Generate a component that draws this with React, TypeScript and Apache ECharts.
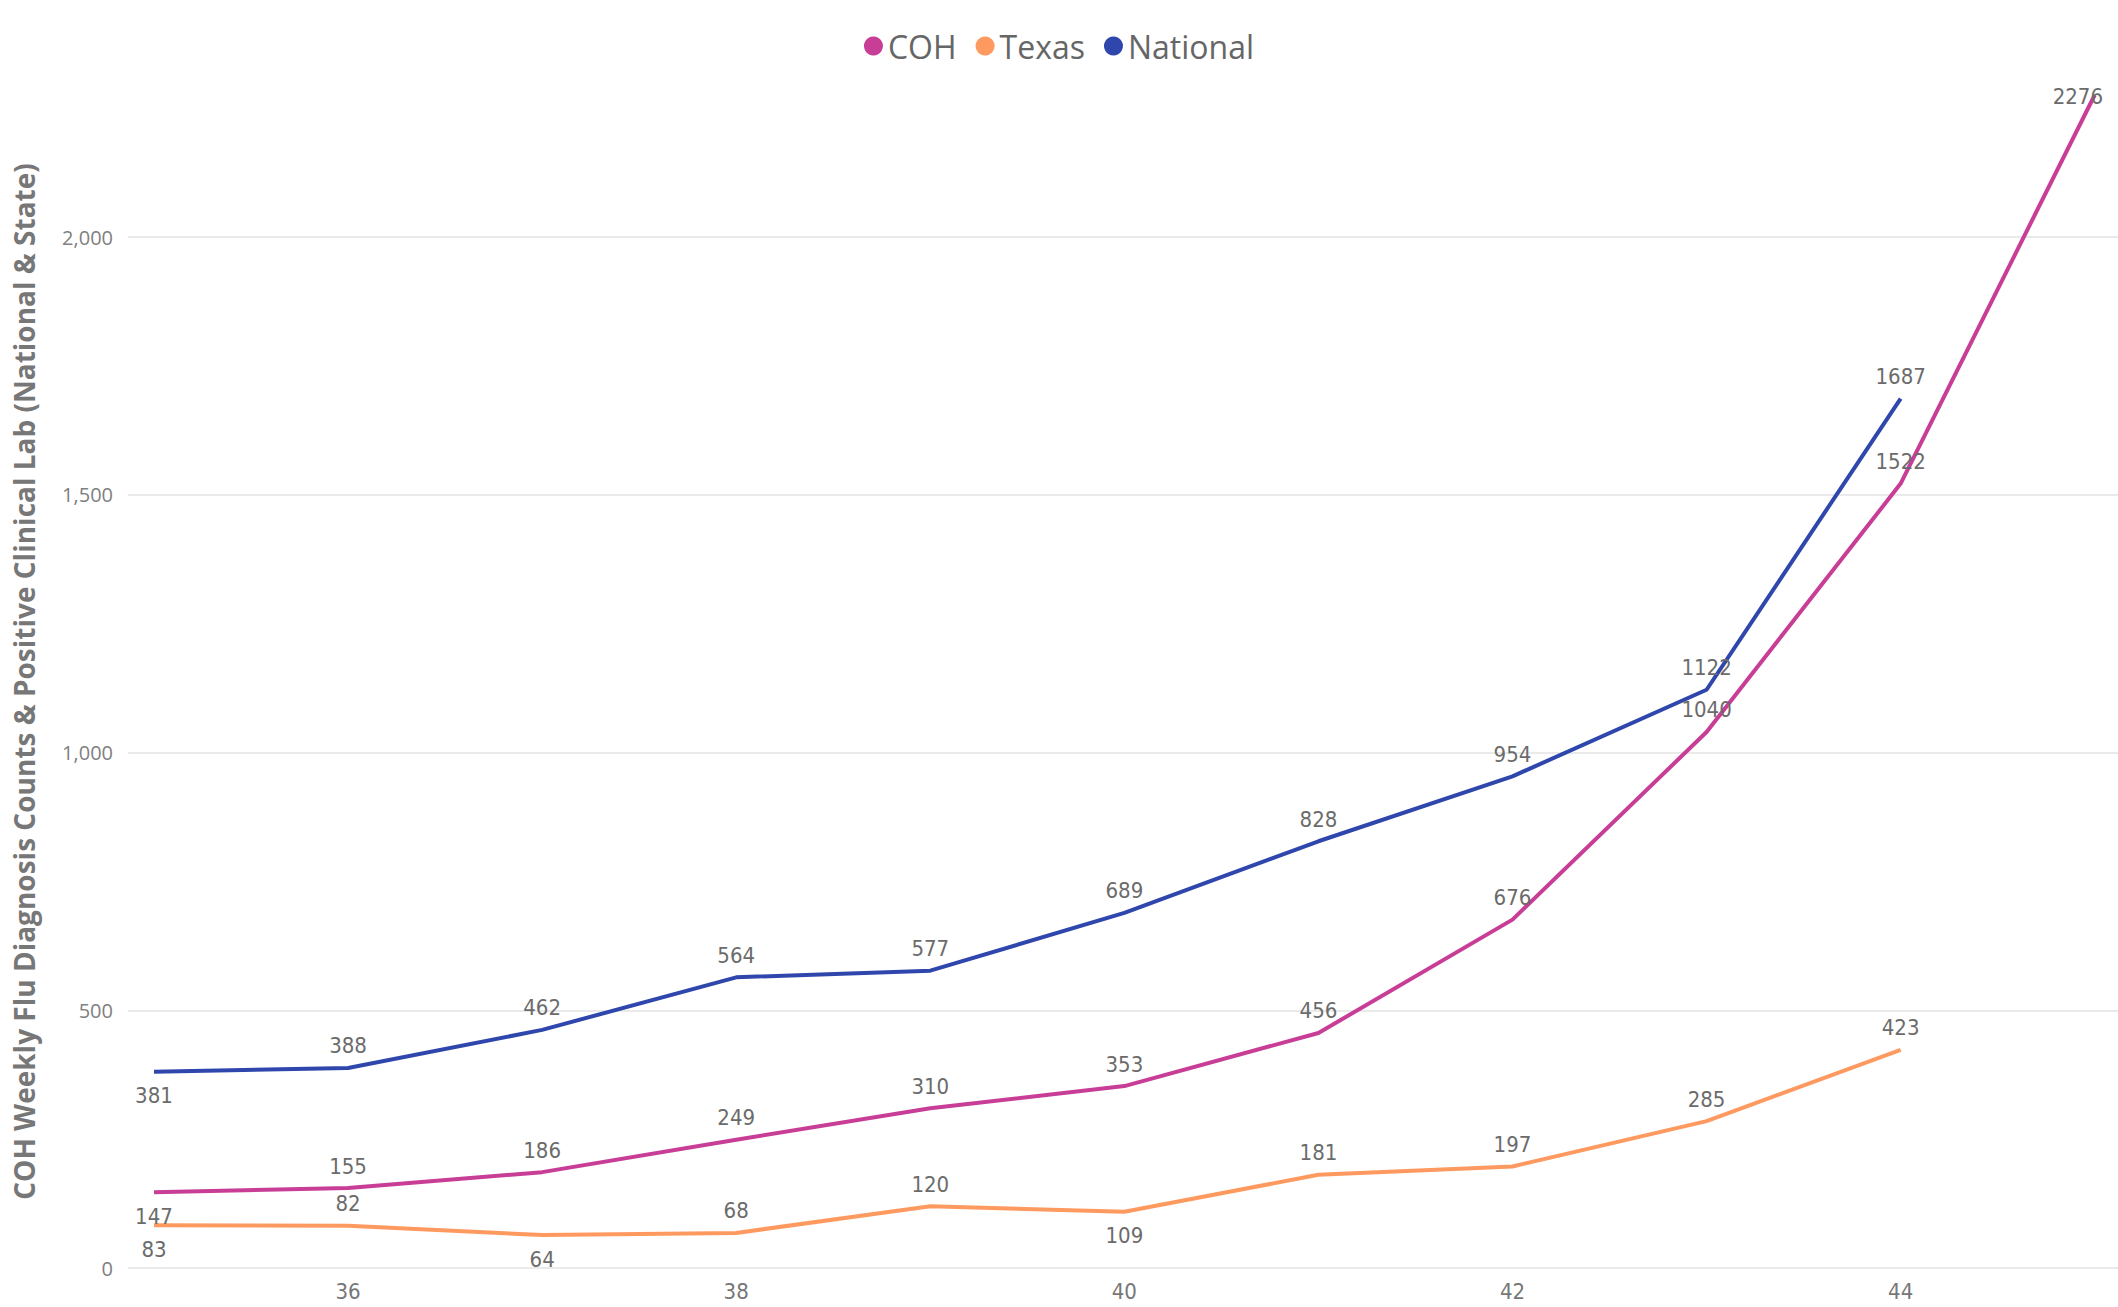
import React, { useEffect, useRef } from "react";
import * as echarts from "echarts";

const weeks = [35, 36, 37, 38, 39, 40, 41, 42, 43, 44, 45];
const cohValues = [147, 155, 186, 249, 310, 353, 456, 676, 1040, 1522, 2276];
const texasValues = [83, 82, 64, 68, 120, 109, 181, 197, 285, 423];
const nationalValues = [381, 388, 462, 564, 577, 689, 828, 954, 1122, 1687];
const xTickLabels = [36, 38, 40, 42, 44];
const yTickLabels = [0, 500, 1000, 1500, 2000];

const seriesNames = ["COH", "Texas", "National"];
const colors = ["#C83D95", "#FE9A60", "#2F47AC"];
// label placement (index of points whose label sits below the line)
const belowIdx: Record<string, number[]> = { COH: [0], Texas: [0, 2, 5], National: [0] };

const labelFont = "'Liberation Sans Narrow', 'DejaVu Sans Condensed', sans-serif";
const uiFont = "'Open Sans', 'Noto Sans', sans-serif";

export default function App() {
  const ref = useRef<HTMLDivElement>(null);
  useEffect(() => {
    if (!ref.current) return;
    const chart = echarts.init(ref.current, null, { renderer: "svg" });
    const all = [cohValues, texasValues, nationalValues];
    const series = seriesNames.map((name, si) => ({
      name,
      type: "line",
      showSymbol: true,
      symbol: "circle",
      symbolSize: 0.1,
      clip: false,
      lineStyle: { width: 4, color: colors[si] },
      itemStyle: { color: colors[si] },
      label: {
        show: true,
        position: "top",
        distance: 11,
        color: "#6b6b6b",
        fontFamily: labelFont,
        fontSize: 22,
      },
      labelLayout: { hideOverlap: false },
      data: all[si].map((v, i) => {
        const item: any = { value: [weeks[i], v] };
        if (belowIdx[name].includes(i)) item.label = { position: "bottom", distance: 13 };
        if (name === "COH" && i === all[si].length - 1)
          item.label = { position: [-42, -9], align: "left", verticalAlign: "top" };
        return item;
      }),
    }));
    chart.setOption({
      animation: false,
      color: colors,
      legend: {
        data: seriesNames,
        top: 25,
        left: "center",
        icon: "circle",
        itemWidth: 19,
        itemHeight: 19,
        itemGap: 19,
        textStyle: { fontFamily: uiFont, fontSize: 32, color: "#666666" },
      },
      grid: {
        left: 128,
        right: 0,
        top: 95,
        bottom: 39,
        containLabel: false,
        outerBoundsMode: "none",
      },
      xAxis: {
        type: "value",
        min: 34.866,
        max: 45.12,
        axisLine: { show: false },
        axisTick: { show: false },
        splitLine: { show: false },
        axisLabel: {
          customValues: xTickLabels,
          color: "#777777",
          fontFamily: labelFont,
          fontSize: 22,
          margin: 12,
        },
      },
      yAxis: {
        type: "value",
        min: 0,
        max: 2276,
        interval: 500,
        name: "COH Weekly Flu Diagnosis Counts & Positive Clinical Lab (National & State)",
        nameLocation: "middle",
        nameGap: 90,
        nameTextStyle: { fontFamily: uiFont, fontSize: 28, fontWeight: "bold", color: "#777777" },
        axisLine: { show: false },
        axisTick: { show: false },
        axisLabel: {
          customValues: yTickLabels,
          color: "#808080",
          fontFamily: uiFont,
          fontSize: 20,
          margin: 15,
          formatter: (v: number) => v.toLocaleString("en-US"),
        },
        splitLine: { show: true, showMaxLine: false, lineStyle: { color: "#EAEAEA", width: 2 } },
      },
      series,
    });
    return () => chart.dispose();
  }, []);
  return (
    <div
      ref={ref}
      style={{ position: "fixed", left: 0, top: 0, width: 2118, height: 1307, background: "#fff" }}
    />
  );
}
